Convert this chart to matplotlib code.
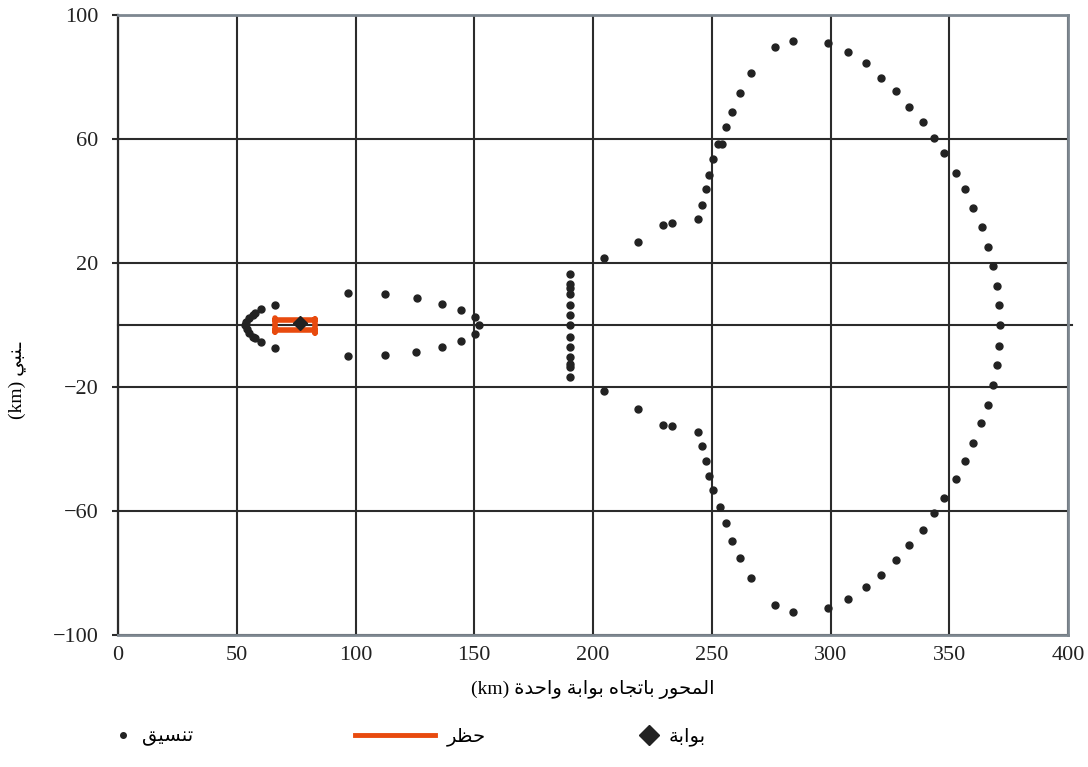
import numpy as np
import matplotlib
matplotlib.use("Agg")
import matplotlib.pyplot as plt
from matplotlib.lines import Line2D

# Arabic presentation forms (isolated form code point); dual-joining letters
# have final/initial/medial forms at +1/+2/+3, right-joining ones only +1
ISO = {'ا': 0xFE8D, 'ب': 0xFE8F, 'ة': 0xFE93, 'ت': 0xFE95, 'ج': 0xFE9D,
       'ح': 0xFEA1, 'د': 0xFEA9, 'ر': 0xFEAD, 'س': 0xFEB1, 'ظ': 0xFEC5,
       'ق': 0xFED5, 'ل': 0xFEDD, 'م': 0xFEE1, 'ن': 0xFEE5, 'ه': 0xFEE9,
       'و': 0xFEED, 'ي': 0xFEF1}
RIGHT_ONLY = set('اةدرو')


def shape(text):
    # join letters and put them in visual (left-to-right) order
    out = []
    for i, ch in enumerate(text):
        if ch not in ISO:
            out.append(ch)
            continue
        prev = text[i - 1] if i > 0 else ''
        nxt = text[i + 1] if i + 1 < len(text) else ''
        join_prev = (prev in ISO or prev == 'ـ') and prev not in RIGHT_ONLY
        join_next = ch not in RIGHT_ONLY and (nxt in ISO or nxt == 'ـ')
        base = ISO[ch]
        if join_prev and join_next:
            out.append(chr(base + 3))
        elif join_prev:
            out.append(chr(base + 1))
        elif join_next:
            out.append(chr(base + 2))
        else:
            out.append(chr(base))
    return ''.join(out)[::-1]


# coordination points (km)
arc_x = [60.1, 57.7, 56.7, 55.3, 53.9, 53.5, 54.2, 55.3, 56.7, 57.7, 60.1]
arc_y = [5.2, 4.0, 3.2, 2.2, 1.1, 0.0, -1.4, -2.5, -3.8, -4.3, -5.6]

wing_x = [66.1, 66.1, 96.7, 96.7, 112.4, 112.4, 125.8, 125.5, 136.3, 136.3,
          144.4, 144.4, 150.3, 152.1, 150.3]
wing_y = [6.5, -7.3, 10.2, -10.0, 10.0, -9.7, 8.6, -8.6, 6.8, -7.0,
          4.8, -5.2, 2.5, 0.0, -2.9]

column_x = [190.3] * 13
column_y = [16.5, 13.2, 11.8, 9.9, 6.5, 3.2, 0.0, -3.8, -7.0, -10.2, -12.6, -13.4, -16.7]

loop_x = [204.6, 219.1, 229.6, 233.1, 244.3, 245.7, 247.4, 249.0, 250.7, 252.8, 254.2,
          255.9, 258.4, 261.9, 266.4, 276.6, 284.1, 298.9, 307.2, 314.9, 321.3,
          327.6, 333.1, 339.1, 343.6, 347.9, 352.8, 356.6, 360.1, 363.6, 366.3,
          368.6, 369.9, 371.1, 371.4, 371.1, 369.9, 368.3, 366.3, 363.5, 360.1,
          356.6, 352.8, 347.9, 343.6, 339.1, 333.1, 327.6, 321.3, 314.9, 307.2,
          298.9, 284.1, 276.6, 266.4, 261.9, 258.4, 255.9, 253.5, 250.7, 249.0,
          247.4, 245.7, 244.3, 233.1, 229.6, 219.1, 204.6]
loop_y = [21.5, 26.7, 32.3, 32.8, 34.1, 38.7, 43.8, 48.3, 53.5, 58.3, 58.3,
          63.8, 68.8, 74.9, 81.2, 89.8, 91.7, 91.1, 88.2, 84.4, 79.8,
          75.6, 70.4, 65.6, 60.2, 55.4, 49.1, 43.8, 37.6, 31.7, 25.3,
          19.1, 12.7, 6.5, 0.0, -6.8, -12.9, -19.4, -25.8, -31.7, -38.2,
          -43.9, -49.7, -55.7, -60.5, -66.1, -71.0, -75.8, -80.6, -84.4, -88.5,
          -91.4, -92.5, -90.3, -81.5, -75.1, -69.6, -63.8, -58.6, -53.2, -48.6,
          -43.9, -39.0, -34.6, -32.6, -32.3, -27.1, -21.3]

# restriction outline (km)
ban_x = [66, 66, 66, 83, 83, 83, 83, 66]
ban_y = [2.2, -2.3, -1.5, -1.5, -2.6, 1.8, 1.6, 1.6]

# gate
gate_x = [76.6]
gate_y = [0.5]

x_ticks = [0, 50, 100, 150, 200, 250, 300, 350, 400]
y_ticks = [-100, -60, -20, 20, 60, 100]
y_tick_labels = ['\u2212100', '\u221260', '\u221220', '20', '60', '100']

x_label = '(km) ' + shape('المحور باتجاه بوابة واحدة')
y_label = '(km) ' + shape('ـنبي')
legend_labels = [shape('تنسيق'), shape('حظر'), shape('بوابة')]

plt.rcParams['font.family'] = ['Liberation Serif', 'DejaVu Sans']

dark = '#2b2b2b'
frame = '#7d8790'
orange = '#e84a0e'

fig = plt.figure(figsize=(10.88, 7.67), dpi=100)
ax = fig.add_axes([118 / 1088, 1 - 635 / 767, 950 / 1088, 620 / 767])

ax.set_xlim(0, 400)
ax.set_ylim(-100, 100)
ax.set_xticks(x_ticks)
ax.set_yticks(y_ticks)
ax.set_yticklabels(y_tick_labels)
ax.grid(True, color=dark, linewidth=1.5, zorder=0)
ax.axhline(0, xmin=0, xmax=1.004, color=dark, linewidth=1.5, clip_on=False, zorder=0)
ax.set_axisbelow(True)

ax.tick_params(axis='x', length=0, pad=8, labelsize=16, colors='#222222')
ax.tick_params(axis='y', length=4, width=1.5, color=dark, pad=10, labelsize=16,
               labelcolor='#222222')

for side in ['top', 'right', 'bottom']:
    ax.spines[side].set_color(frame)
    ax.spines[side].set_linewidth(2)
ax.spines['left'].set_color(dark)
ax.spines['left'].set_linewidth(1.6)

dot_style = dict(linestyle='none', marker='o', markersize=5, color='#222222', zorder=3)
for xs, ys in [(arc_x, arc_y), (wing_x, wing_y), (column_x, column_y), (loop_x, loop_y)]:
    ax.plot(xs, ys, **dot_style)

ax.plot(ban_x, ban_y, color=orange, linewidth=4, solid_joinstyle='round',
        solid_capstyle='round', zorder=4)
ax.plot(gate_x, gate_y, linestyle='none', marker='D', markersize=7, color='#222222', zorder=5)

ax.set_xlabel(x_label, fontsize=14, labelpad=11)
ax.set_ylabel(y_label, fontsize=14)
ax.yaxis.set_label_coords(-0.097, 0.41)

# legend, one entry per block
dot_handle = Line2D([], [], linestyle='none', marker='o', markersize=4, color='#222222')
line_handle = Line2D([], [], color=orange, linewidth=3.5)
gate_handle = Line2D([], [], linestyle='none', marker='D', markersize=10, color='#222222')
entries = [(dot_handle, legend_labels[0], 0.8, 115 / 1088),
           (line_handle, legend_labels[1], 4.1, 355 / 1088),
           (gate_handle, legend_labels[2], 0.8, 641 / 1088)]
for handle, label, hlen, xpos in entries:
    fig.legend(handles=[handle], labels=[label], loc='center left',
               bbox_to_anchor=(xpos, 1 - 737 / 767), frameon=False,
               handlelength=hlen, handletextpad=0.6, borderpad=0,
               borderaxespad=0, fontsize=14, numpoints=1)

fig.savefig("out.png", dpi=100)
